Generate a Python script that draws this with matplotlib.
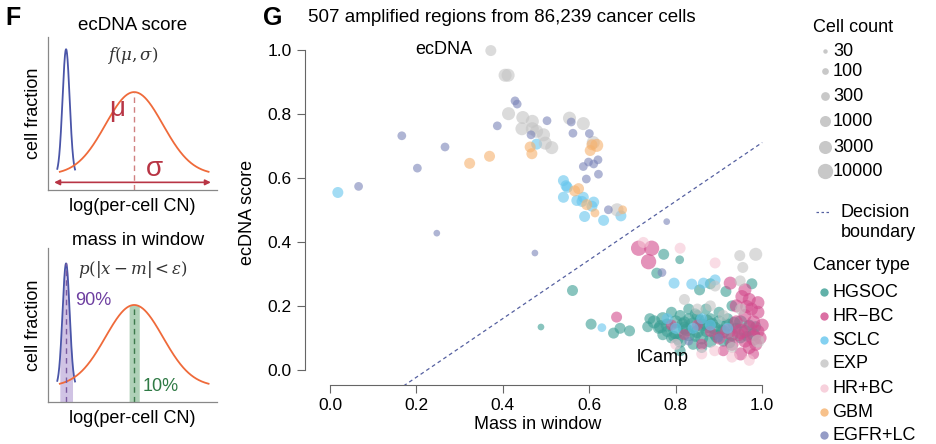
import numpy as np
import matplotlib
matplotlib.use("Agg")
import matplotlib.pyplot as plt

plt.rcParams['font.family'] = ['Liberation Sans', 'DejaVu Sans']
plt.rcParams['mathtext.fontset'] = 'dejavuserif'

W, H = 936, 444
COLORS = {"HGSOC": "#3a9e94", "HR\u2212BC": "#d24b8c", "SCLC": "#66c6ee", "EXP": "#c4c4c4",
          "HR+BC": "#f6c6d4", "GBM": "#f6b26e", "EGFR+LC": "#7b84b8"}
TYPES = ["HGSOC", "HR\u2212BC", "SCLC", "EXP", "HR+BC", "GBM", "EGFR+LC"]

# ---- data: (mass in window, ecDNA score, cell count) per cancer type ----
hgsoc_x = [0.75,0.76,0.77,0.78,0.78,0.79,0.80,0.80,0.81,0.81,0.82,0.82,0.83,0.83,0.84,0.84,0.85,0.85,0.86,0.86,0.87,0.87,0.88,0.88,0.89,0.89,0.90,0.90,0.91,0.91,0.92,0.92,0.93,0.94,0.95,0.95,0.96,0.97,0.98,0.79,0.83,0.87,0.93,0.81,0.86,0.77,0.74,
           0.772,0.809,0.756,0.561,0.855,0.916,0.976,0.880,0.604,0.656,0.693,0.671,0.488,
           0.765,0.795,0.825,0.845,0.875,0.905,0.935,0.965,0.815,0.855,0.895,0.925,0.985,0.735,0.805,0.845,0.885]
hgsoc_y = [0.15,0.13,0.16,0.12,0.14,0.10,0.15,0.12,0.17,0.09,0.13,0.15,0.11,0.16,0.14,0.08,0.12,0.17,0.10,0.14,0.15,0.12,0.09,0.16,0.13,0.11,0.15,0.18,0.12,0.09,0.14,0.16,0.11,0.13,0.15,0.10,0.12,0.14,0.11,0.18,0.19,0.19,0.20,0.06,0.07,0.11,0.16,
           0.361,0.344,0.302,0.248,0.250,0.245,0.269,0.269,0.143,0.115,0.122,0.130,0.134,
           0.135,0.105,0.125,0.105,0.135,0.125,0.145,0.105,0.145,0.155,0.105,0.085,0.135,0.135,0.095,0.175,0.145]
hgsoc_n = [3000,1000,3000,1000,3000,1000,3000,10000,1000,3000,3000,1000,3000,1000,10000,1000,3000,1000,3000,3000,10000,1000,3000,1000,3000,1000,3000,1000,3000,1000,3000,1000,3000,1000,3000,1000,3000,1000,3000,1000,1000,1000,1000,1000,1000,1000,1000,
           1000,300,1000,1000,1000,1000,1000,1000,1000,1000,1000,1000,100,
           3000,1000,3000,1000,3000,1000,3000,1000,1000,1000,3000,1000,1000,1000,1000,1000,1000]

hrbc_x = [0.90,0.92,0.93,0.94,0.95,0.96,0.96,0.97,0.97,0.98,0.98,0.99,0.99,1.00,0.94,0.97,0.99,0.88,0.85,0.82,0.86,0.91,0.95,0.98,0.79,0.96,
          0.714,0.744,0.737,0.926,0.953,0.964,0.663,0.985,0.995,0.945,0.975]
hrbc_y = [0.10,0.12,0.08,0.15,0.12,0.09,0.17,0.13,0.07,0.15,0.10,0.12,0.18,0.14,0.20,0.22,0.21,0.12,0.14,0.11,0.08,0.06,0.05,0.05,0.14,0.25,
          0.380,0.380,0.338,0.271,0.229,0.198,0.165,0.08,0.10,0.11,0.19]
hrbc_n = [3000,10000,3000,3000,10000,3000,3000,10000,3000,3000,10000,3000,3000,3000,3000,3000,3000,1000,1000,1000,1000,1000,3000,1000,1000,3000,
          10000,10000,10000,3000,3000,3000,1000,3000,3000,3000,3000]

sclc_x = [0.80,0.84,0.88,0.92,0.86,0.78,0.796,0.837,0.864,0.891,0.629,
          0.478,0.540,0.546,0.549,0.540,0.571,0.586,0.610,0.606,0.589,0.633,0.673,0.583,0.018]
sclc_y = [0.13,0.13,0.14,0.13,0.16,0.16,0.271,0.268,0.271,0.281,0.132,
          0.705,0.591,0.575,0.570,0.539,0.529,0.539,0.524,0.511,0.479,0.467,0.481,0.526,0.554]
sclc_n = [1000,1000,1000,1000,1000,1000,1000,1000,1000,1000,300,
          1000,1000,1000,1000,1000,1000,1000,1000,1000,1000,1000,1000,1000,1000]

exp_x = [0.85,0.88,0.95,0.82,0.91,0.99,0.93,0.948,0.985,0.955,0.949,0.891,
         0.372,0.405,0.412,0.413,0.446,0.468,0.444,0.468,0.478,0.494,0.498,0.513,0.554,0.586,0.609,0.664]
exp_y = [0.19,0.20,0.19,0.22,0.17,0.09,0.07,0.357,0.361,0.320,0.278,0.262,
         0.997,0.920,0.920,0.800,0.788,0.776,0.753,0.753,0.745,0.734,0.708,0.694,0.786,0.769,0.710,0.500]
exp_n = [1000,1000,1000,1000,1000,3000,1000,1000,3000,1000,1000,1000,
         1000,3000,3000,3000,3000,3000,3000,3000,3000,3000,3000,3000,3000,3000,3000,3000]

hrpbc_x = [0.86,0.89,0.80,0.93,0.97,0.725,0.810,0.891]
hrpbc_y = [0.05,0.06,0.08,0.04,0.03,0.398,0.380,0.334]
hrpbc_n = [1000,1000,1000,1000,1000,1000,1000,1000]

gbm_x = [0.463,0.467,0.606,0.617,0.602,0.369,0.323,0.566,0.575,0.594,0.613,0.677]
gbm_y = [0.696,0.675,0.703,0.701,0.685,0.667,0.645,0.559,0.566,0.516,0.490,0.500]
gbm_n = [1000,1000,1000,3000,1000,1000,1000,1000,1000,1000,300,300]

egfr_x = [0.83,0.90,0.768,0.428,0.433,0.502,0.387,0.465,0.558,0.562,0.600,0.620,0.598,0.610,0.586,0.621,0.593,
          0.166,0.266,0.202,0.066,0.247,0.474,0.644,0.779]
egfr_y = [0.09,0.10,0.304,0.840,0.830,0.778,0.762,0.734,0.774,0.739,0.738,0.656,0.649,0.643,0.635,0.611,0.596,
          0.731,0.696,0.630,0.573,0.427,0.365,0.500,0.463]
egfr_n = [300,300,300,300,300,300,300,300,300,300,300,300,300,300,300,300,300,
          300,300,300,300,100,100,300,100]

SERIES = {"HGSOC": (hgsoc_x, hgsoc_y, hgsoc_n), "HR\u2212BC": (hrbc_x, hrbc_y, hrbc_n),
          "SCLC": (sclc_x, sclc_y, sclc_n), "EXP": (exp_x, exp_y, exp_n),
          "HR+BC": (hrpbc_x, hrpbc_y, hrpbc_n), "GBM": (gbm_x, gbm_y, gbm_n),
          "EGFR+LC": (egfr_x, egfr_y, egfr_n)}
size_levels = [30, 100, 300, 1000, 3000, 10000]
boundary_x = [0.17, 1.0]
boundary_y = [-0.05, 0.71]

def msize(n):
    return (3.2 + 3.1 * np.log10(np.asarray(n) / 30.0)) ** 2

fig = plt.figure(figsize=(W / 100, H / 100), dpi=100)

def rect(l, t, r, b):
    return [l / W, 1 - b / H, (r - l) / W, (b - t) / H]

# ---------- Panel F ----------
blue, orange = "#4a55a8", "#ef6a3a"
red = "#b83545"
bc, bs = 0.107, 0.021
oc, osd = 0.51, 0.17
def bcurve(x, h): return 0.1 + (h - 0.1) * np.exp(-0.5 * ((x - bc) / bs) ** 2)
def ocurve(x, h): return 0.1 + (h - 0.1) * np.exp(-0.5 * ((x - oc) / osd) ** 2)
for k, (top, bot) in enumerate([(37, 190), (248, 402)]):
    a = fig.add_axes(rect(48, top, 217, bot))
    bh = 0.92 if k == 0 else 0.9
    oh = 0.64 if k == 0 else 0.63
    bx = np.linspace(0.055, 0.16, 200)
    ox = np.linspace(0.07, 0.95, 400)
    if k == 1:
        px = np.linspace(0.07, 0.145, 100)
        a.fill_between(px, 0, bcurve(px, bh), color="#c5b4de", alpha=0.8, lw=0)
        gx = np.linspace(0.48, 0.54, 50)
        a.fill_between(gx, 0, ocurve(gx, oh), color="#9cc6a6", alpha=0.8, lw=0)
    a.plot(bx, bcurve(bx, bh), color=blue, lw=1.3)
    a.plot(ox, ocurve(ox, oh), color=orange, lw=1.3)
    a.set_xlim(0, 1); a.set_ylim(0, 1)
    a.set_xticks([]); a.set_yticks([])
    for s in ["top", "right"]:
        a.spines[s].set_visible(False)
    for s in ["left", "bottom"]:
        a.spines[s].set_color("#888888"); a.spines[s].set_linewidth(0.9)
    a.set_ylabel("cell fraction", fontsize=13, labelpad=4)
    a.set_xlabel("log(per-cell CN)", fontsize=13, labelpad=6)
    if k == 0:
        a.plot([oc, oc], [0.0, oh], ls=(0, (4, 3)), color="#d08080", lw=1)
        a.annotate("", xy=(0.02, 0.05), xytext=(0.98, 0.05),
                   arrowprops=dict(arrowstyle="<|-|>", color=red, lw=1.2, mutation_scale=8))
        a.text(0.41, 0.53, "\u03bc", color=red, fontsize=20, ha="center", va="center")
        a.text(0.63, 0.14, "\u03c3", color=red, fontsize=20, ha="center", va="center")
    else:
        a.plot([bc, bc], [0, bh], ls=(0, (4, 3)), color="#7a5aa0", lw=1)
        a.plot([oc, oc], [0, oh], ls=(0, (4, 3)), color="#3d7a4c", lw=1)
        a.text(0.16, 0.66, "90%", color="#6d3ea0", fontsize=13, va="center")
        a.text(0.56, 0.10, "10%", color="#2f7a45", fontsize=13, va="center")

fig.text(5 / W, 1 - 18 / H, "F", fontsize=18, fontweight="bold", va="center")
fig.text(133 / W, 1 - 25 / H, "ecDNA score", fontsize=13.5, ha="center", va="center")
fig.text(133 / W, 1 - 55 / H, r"$f(\mu,\sigma)$", fontsize=12, ha="center", va="center", color="#333333")
fig.text(138 / W, 1 - 240 / H, "mass in window", fontsize=13.5, ha="center", va="center")
fig.text(133 / W, 1 - 270 / H, r"$p(|x-m|<\varepsilon)$", fontsize=12, ha="center", va="center", color="#333333")

# ---------- Panel G ----------
ax = fig.add_axes(rect(305, 40, 770, 385))
ax.set_xlim(-0.058, 1.018)
ax.set_ylim(-0.047, 1.03)
for t in TYPES:
    x, y, n = SERIES[t]
    ax.scatter(x, y, s=msize(n), color=COLORS[t], alpha=0.6, lw=0, zorder=2)
ax.plot(boundary_x, boundary_y, ls=(0, (3, 2.5)), color="#5560a0", lw=0.9, zorder=3)
for s in ["top", "right"]:
    ax.spines[s].set_visible(False)
for s in ["left", "bottom"]:
    ax.spines[s].set_bounds(0, 1)
    ax.spines[s].set_color("#666666")
ax.set_xticks([0, 0.2, 0.4, 0.6, 0.8, 1.0])
ax.set_yticks([0, 0.2, 0.4, 0.6, 0.8, 1.0])
ax.tick_params(labelsize=12.5, length=6, color="#666666")
ax.set_xlabel("Mass in window", fontsize=13, labelpad=2)
ax.set_ylabel("ecDNA score", fontsize=13, labelpad=8)
ax.text(0.264, 1.0, "ecDNA", fontsize=13, ha="center", va="center")
ax.text(0.77, 0.04, "lCamp", fontsize=13, ha="center", va="center", zorder=4)
fig.text(263 / W, 1 - 18 / H, "G", fontsize=18, fontweight="bold", va="center")
fig.text(308 / W, 1 - 18 / H, "507 amplified regions from 86,239 cancer cells", fontsize=13.5, va="center")

# ---------- Legend ----------
lg = fig.add_axes([770 / W, 0, 166 / W, 1])
lg.set_xlim(770, 936); lg.set_ylim(444, 0); lg.axis("off")
lg.text(813, 28, "Cell count", fontsize=13, va="center")
for n, yy in zip(size_levels, [51, 71, 96, 121, 147, 171]):
    lg.scatter([825], [yy], s=msize(n), color="#c8c8c8", lw=0)
    lg.text(833, yy, str(n), fontsize=13, va="center")
lg.plot([816, 830], [212, 212], ls=(0, (2, 2)), color="#5560a0", lw=0.9)
lg.text(841, 212, "Decision", fontsize=13, va="center")
lg.text(841, 232, "boundary", fontsize=13, va="center")
lg.text(813, 265, "Cancer type", fontsize=13, va="center")
for t, yy in zip(TYPES, [292, 316, 340, 363, 388, 412, 435]):
    lg.scatter([824], [yy], s=36, color=COLORS[t], alpha=0.8, lw=0)
    lg.text(832, yy, t, fontsize=13, va="center")

fig.savefig("out.png", dpi=100)
